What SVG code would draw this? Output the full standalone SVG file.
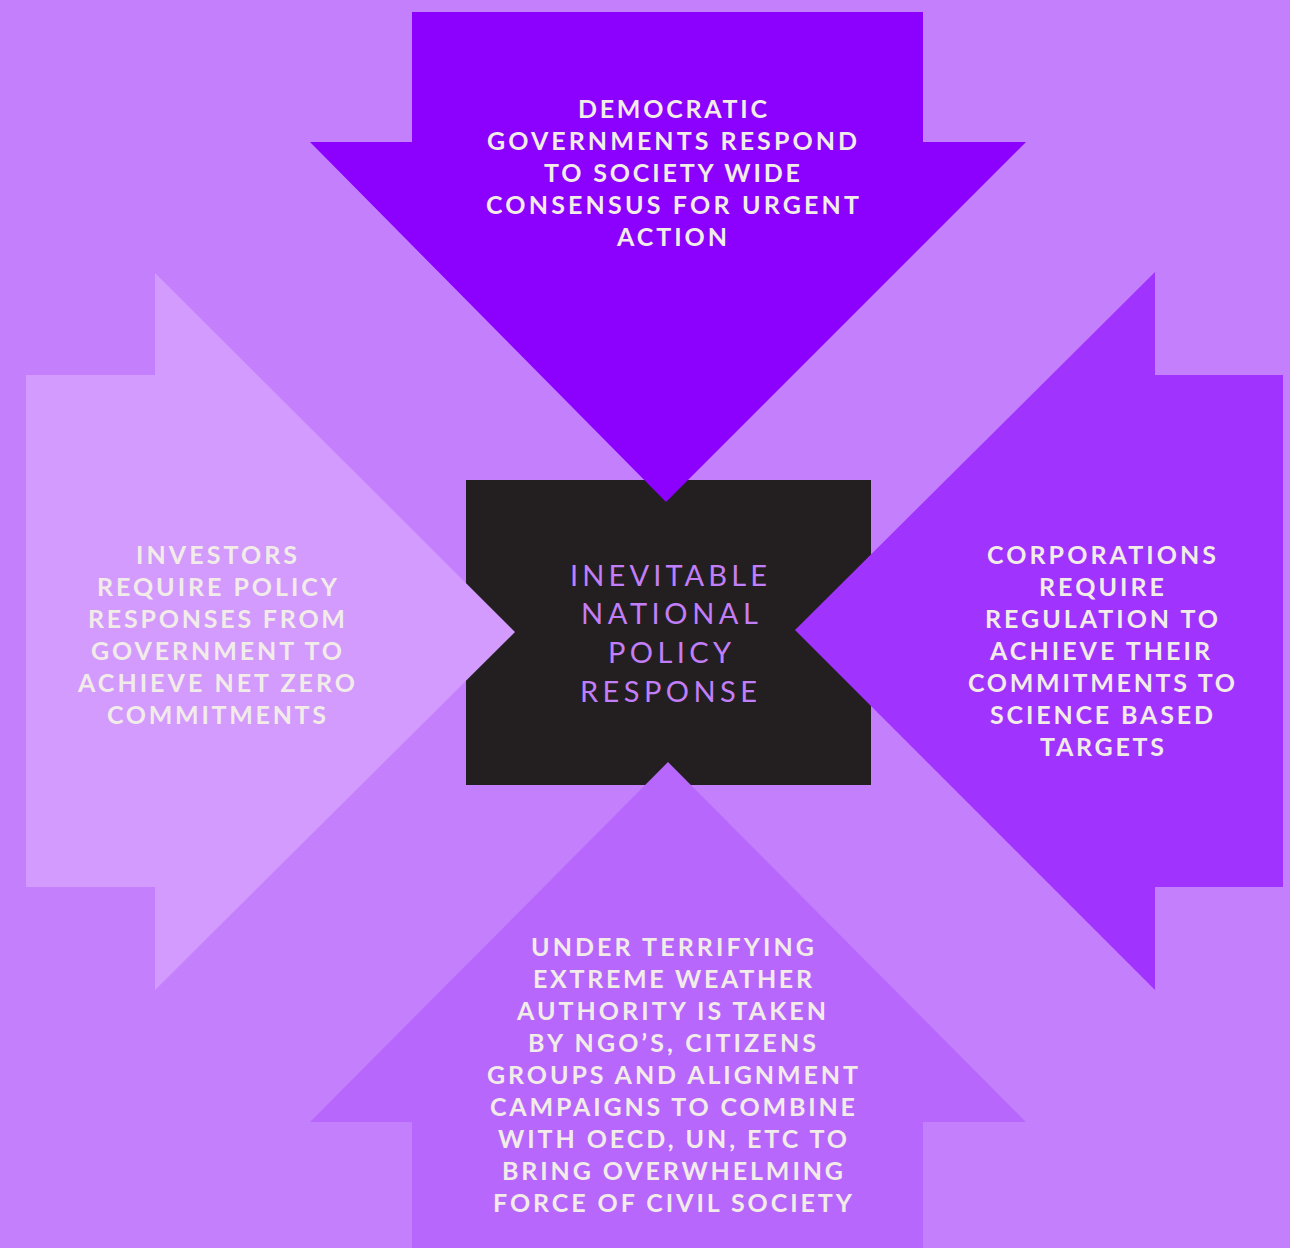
<svg xmlns="http://www.w3.org/2000/svg" width="1290" height="1248" viewBox="0 0 1290 1248">
<style>
.bg{fill:#c480fc}
.t{fill:#f2ece9;font-family:Lato,"Open Sans","Liberation Sans",sans-serif;font-weight:700;font-size:25px}
.w{fill:#f2ece9;font-family:Lato,"Open Sans","Liberation Sans",sans-serif;font-weight:700;font-size:25px}
.c{fill:#c27ef9;font-family:Lato,"Open Sans","Liberation Sans",sans-serif;font-weight:400;font-size:29px}
</style>
<rect class="bg" x="0" y="0" width="1290" height="1248"/>
<g id="center">
<rect x="466" y="480" width="405" height="305" fill="#231f20"/>
</g>
<g id="connectors"></g>
<g id="left-arrow">
<polygon points="26,375 155,375 155,273 515,632 155,990 155,887 26,887" fill="#d29bfd"/>
<text class="w" x="136" y="564" textLength="161" lengthAdjust="spacing">INVESTORS</text>
<text class="w" x="97" y="596" textLength="240" lengthAdjust="spacing">REQUIRE POLICY</text>
<text class="w" x="88" y="628" textLength="257" lengthAdjust="spacing">RESPONSES FROM</text>
<text class="w" x="91" y="660" textLength="251" lengthAdjust="spacing">GOVERNMENT TO</text>
<text class="w" x="78" y="692" textLength="277" lengthAdjust="spacing">ACHIEVE NET ZERO</text>
<text class="w" x="107" y="724" textLength="219" lengthAdjust="spacing">COMMITMENTS</text>
</g>
<g id="right-arrow">
<polygon points="1283,375 1155,375 1155,272 795,630 1155,990 1155,887 1283,887" fill="#a033fd"/>
<text class="w" x="987" y="564" textLength="229" lengthAdjust="spacing">CORPORATIONS</text>
<text class="w" x="1039" y="596" textLength="125" lengthAdjust="spacing">REQUIRE</text>
<text class="w" x="985" y="628" textLength="233" lengthAdjust="spacing">REGULATION TO</text>
<text class="w" x="990" y="660" textLength="220" lengthAdjust="spacing">ACHIEVE THEIR</text>
<text class="w" x="968" y="692" textLength="267" lengthAdjust="spacing">COMMITMENTS TO</text>
<text class="w" x="990" y="724" textLength="223" lengthAdjust="spacing">SCIENCE BASED</text>
<text class="w" x="1040" y="756" textLength="124" lengthAdjust="spacing">TARGETS</text>
</g>
<g id="bottom-arrow">
<polygon points="412,1248 412,1122 310,1122 668,762 1026,1122 923,1122 923,1248" fill="#b867fc"/>
<text class="t" x="531" y="956" textLength="283" lengthAdjust="spacing">UNDER TERRIFYING</text>
<text class="t" x="533" y="988" textLength="279" lengthAdjust="spacing">EXTREME WEATHER</text>
<text class="t" x="517" y="1020" textLength="309" lengthAdjust="spacing">AUTHORITY IS TAKEN</text>
<text class="t" x="528" y="1052" textLength="288" lengthAdjust="spacing">BY NGO’S, CITIZENS</text>
<text class="t" x="487" y="1084" textLength="371" lengthAdjust="spacing">GROUPS AND ALIGNMENT</text>
<text class="t" x="490" y="1116" textLength="365" lengthAdjust="spacing">CAMPAIGNS TO COMBINE</text>
<text class="t" x="498" y="1148" textLength="349" lengthAdjust="spacing">WITH OECD, UN, ETC TO</text>
<text class="t" x="502" y="1180" textLength="341" lengthAdjust="spacing">BRING OVERWHELMING</text>
<text class="t" x="493" y="1212" textLength="359" lengthAdjust="spacing">FORCE OF CIVIL SOCIETY</text>
</g>
<g id="top-arrow">
<polygon points="412,12 923,12 923,142 1026,142 666,502 310,142 412,142" fill="#8c00fd"/>
<text class="t" x="578" y="118" textLength="189" lengthAdjust="spacing">DEMOCRATIC</text>
<text class="t" x="487" y="150" textLength="370" lengthAdjust="spacing">GOVERNMENTS RESPOND</text>
<text class="t" x="544" y="182" textLength="256" lengthAdjust="spacing">TO SOCIETY WIDE</text>
<text class="t" x="486" y="214" textLength="373" lengthAdjust="spacing">CONSENSUS FOR URGENT</text>
<text class="t" x="617" y="246" textLength="110" lengthAdjust="spacing">ACTION</text>
</g>
<g id="center-label">
<text class="c" x="570" y="586" textLength="197" lengthAdjust="spacing">INEVITABLE</text>
<text class="c" x="581" y="624" textLength="177" lengthAdjust="spacing">NATIONAL</text>
<text class="c" x="608" y="663" textLength="123" lengthAdjust="spacing">POLICY</text>
<text class="c" x="580" y="702" textLength="177" lengthAdjust="spacing">RESPONSE</text>
</g>
</svg>
